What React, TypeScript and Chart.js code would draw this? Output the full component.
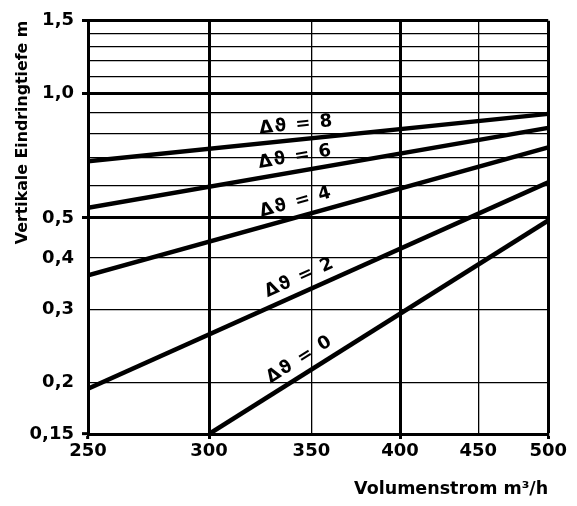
import { useEffect, useRef } from 'react';
import { Chart, registerables } from 'chart.js';

Chart.register(...registerables);

const FONT = '"DejaVu Sans", "Liberation Sans", sans-serif';

// Volumenstrom (m³/h) end points of each curve
const flowX = [250, 500];
const flowX0 = [300, 500];

// Vertikale Eindringtiefe (m) per temperature difference
const depthDt8 = [0.686, 0.893];
const depthDt6 = [0.529, 0.826];
const depthDt4 = [0.363, 0.741];
const depthDt2 = [0.193, 0.61];
const depthDt0 = [0.15, 0.493];

const curveNames = ['Δϑ = 8', 'Δϑ = 6', 'Δϑ = 4', 'Δϑ = 2', 'Δϑ = 0'];
// flow value where each curve name sits
const labelAtX = [343, 343, 344, 347, 348];

const xTicks = [250, 300, 350, 400, 450, 500];
const xMarked = [250, 300, 400, 500];
const xHeavy = [300, 400, 500];

const yGrid = [0.15, 0.2, 0.3, 0.4, 0.5, 0.6, 0.7, 0.8, 0.9, 1.0, 1.1, 1.2, 1.3, 1.4, 1.5];
const yLabelled = [0.15, 0.2, 0.3, 0.4, 0.5, 1.0, 1.5];
const yLabelText = ['0,15', '0,2', '0,3', '0,4', '0,5', '1,0', '1,5'];
const yMarked = [0.15, 1.0, 0.5, 1.5];
const yHeavy = [0.5, 1.0, 1.5];

const toPoints = (xs: number[], ys: number[]) => xs.map((x, i) => ({ x, y: ys[i] }));

// writes each curve's name along the curve, just above it
const curveLabels = {
  id: 'curveLabels',
  afterDatasetsDraw(chart: any) {
    const ctx = chart.ctx;
    const xs = chart.scales.x;
    chart.data.datasets.forEach((ds: any, i: number) => {
      const meta = chart.getDatasetMeta(i);
      const p0 = meta.data[0];
      const p1 = meta.data[meta.data.length - 1];
      const px = xs.getPixelForValue(labelAtX[i]);
      const t = (px - p0.x) / (p1.x - p0.x);
      const py = p0.y + t * (p1.y - p0.y);
      const ang = Math.atan2(p1.y - p0.y, p1.x - p0.x);
      ctx.save();
      ctx.translate(px, py);
      ctx.rotate(ang);
      ctx.font = `bold 18px ${FONT}`;
      (ctx as any).letterSpacing = '1.5px';
      ctx.textAlign = 'center';
      ctx.textBaseline = 'alphabetic';
      ctx.fillStyle = '#000';
      ctx.fillText(ds.label, 0, -10);
      ctx.restore();
    });
  },
};

export default function App() {
  const canvasRef = useRef<HTMLCanvasElement | null>(null);

  useEffect(() => {
    if (!canvasRef.current) return;
    const series = [depthDt8, depthDt6, depthDt4, depthDt2, depthDt0];
    const chart = new Chart(canvasRef.current, {
      type: 'line',
      data: {
        datasets: series.map((ys, i) => ({
          label: curveNames[i],
          data: toPoints(i === 4 ? flowX0 : flowX, ys),
          borderColor: '#000',
          borderWidth: 4.5,
          pointRadius: 0,
          tension: 0,
          borderCapStyle: 'butt' as const,
        })),
      },
      options: {
        animation: false,
        responsive: true,
        maintainAspectRatio: false,
        layout: { padding: { top: 12, right: 20, left: 0, bottom: 0 } },
        plugins: {
          legend: { display: false },
          tooltip: { enabled: false },
        },
        scales: {
          x: {
            type: 'logarithmic',
            min: 250,
            max: 500,
            afterBuildTicks: (s: any) => {
              s.ticks = xTicks.map((v) => ({ value: v }));
            },
            afterFit: (s: any) => {
              s.height = 66;
            },
            ticks: {
              autoSkip: false,
              maxRotation: 0,
              color: '#000',
              padding: 2,
              font: { family: FONT, size: 18, weight: 'bold' },
              callback: (v: any) => String(v),
            },
            grid: {
              color: '#000',
              lineWidth: (c: any) => (c.tick && xHeavy.includes(c.tick.value) ? 3 : 1.3),
              tickLength: 5,
              tickColor: (c: any) => (c.tick && xMarked.includes(c.tick.value) ? '#000' : 'rgba(0,0,0,0)'),
              tickWidth: 3,
            },
            border: { color: '#000', width: 3 },
            title: {
              display: true,
              text: 'Volumenstrom m³/h',
              align: 'end',
              color: '#000',
              font: { family: FONT, size: 17.5, weight: 'bold' },
              padding: { top: 0, bottom: 0 },
            },
          },
          y: {
            type: 'logarithmic',
            min: 0.15,
            max: 1.5,
            afterBuildTicks: (s: any) => {
              s.ticks = yGrid.map((v) => ({ value: v }));
            },
            afterFit: (s: any) => {
              s.width = 80;
            },
            ticks: {
              autoSkip: false,
              color: '#000',
              padding: 8,
              font: { family: FONT, size: 18, weight: 'bold' },
              callback: (v: any) => {
                const k = yLabelled.indexOf(Number(v));
                return k >= 0 ? yLabelText[k] : '';
              },
            },
            grid: {
              color: '#000',
              lineWidth: (c: any) => (c.tick && yHeavy.includes(c.tick.value) ? 3 : 1.3),
              tickLength: 6,
              tickColor: (c: any) => (c.tick && yMarked.includes(c.tick.value) ? '#000' : 'rgba(0,0,0,0)'),
              tickWidth: 3,
            },
            border: { color: '#000', width: 3 },
            title: {
              display: true,
              text: 'Vertikale Eindringtiefe m',
              align: 'end',
              color: '#000',
              font: { family: FONT, size: 15.8, weight: 'bold' },
              padding: { top: 5, bottom: 0 },
            },
          },
        },
      } as any,
      plugins: [curveLabels],
    });
    return () => chart.destroy();
  }, []);

  return (
    <div style={{ width: 561, height: 498, marginTop: -6, position: 'relative' }}>
      <canvas ref={canvasRef} />
    </div>
  );
}
